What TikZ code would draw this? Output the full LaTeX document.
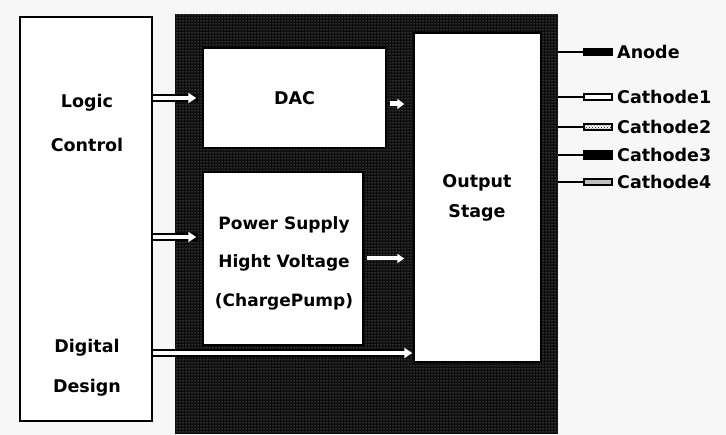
\documentclass[tikz,border=0pt]{standalone}
\usepackage{fontspec}
\setmainfont{DejaVu Sans}
\usetikzlibrary{patterns,arrows.meta}
\begin{document}
\begin{tikzpicture}[x=1pt,y=-1pt,
  lbl/.style={font=\fontsize{17.5}{20}\selectfont\bfseries, text=black, inner sep=0pt},
  wbox/.style={draw=black, line width=2pt, fill=white, inner sep=0pt},
  darkbox/.style={fill=black!95, inner sep=0pt, postaction={pattern=dots, pattern color=gray!65}},
  harrow/.style={white, line width=4pt, -{Triangle[length=8pt,width=10pt]},
     preaction={draw=black, line width=8pt, -, shorten >=4pt}},
  wire/.style={draw=black, line width=1.6pt},
  pinblack/.style={fill=black, minimum width=30pt, minimum height=8pt, inner sep=0pt},
  pinwhite/.style={draw=black, line width=2pt, fill=white, minimum width=28pt, minimum height=6pt, inner sep=0pt},
  pindot/.style={draw=black, line width=2pt, fill=white, pattern=crosshatch dots, minimum width=28pt, minimum height=6pt, inner sep=0pt},
  pingray/.style={draw=black, line width=2pt, fill=gray!50, minimum width=28pt, minimum height=6pt, inner sep=0pt},
  pinlbl/.style={lbl, anchor=west}
]
\useasboundingbox (0,0) rectangle (726,435);
\fill[white!97!black] (0,0) rectangle (726,435);

% big dark block
\node[darkbox, minimum width=383pt, minimum height=420pt] (ana) at (366.5,224) {};

% left block
\node[wbox, line width=2.5pt, minimum width=132pt, minimum height=404pt] (lc) at (86,219) {};
\node[lbl] (t1) at (87,103) {Logic};
\node[lbl] (t2) at (87,145) {Control};
\node[lbl] (t3) at (87,348) {Digital};
\node[lbl] (t4) at (87,388) {Design};

% inner blocks
\node[wbox, line width=1.5pt, minimum width=183pt, minimum height=100pt] (dac) at (294.5,98) {};
\node[lbl] at (dac) {DAC};
\node[wbox, line width=1.5pt, minimum width=160pt, minimum height=173pt] (ps) at (283,258.5) {};
\node[lbl, align=center, font=\fontsize{17}{38.5}\selectfont\bfseries] at (284,263) {Power Supply\\Hight Voltage\\(ChargePump)};
\node[wbox, line width=1.5pt, minimum width=127pt, minimum height=329pt] (out) at (477.5,197.5) {};
\node[lbl, align=center, font=\fontsize{17.5}{30}\selectfont\bfseries] at (477,198) {Output\\Stage};

% arrows
\coordinate (lcps) at (lc.east |- 0,237);
\coordinate (dg) at (lc.east |- 0,353);
\draw[harrow, shorten >=6pt] (lc.east |- dac.west) -- (dac.west);
\draw[harrow, shorten >=6pt] (lcps) -- (lcps -| ps.west);
\draw[harrow, shorten >=1pt] (dg) -- (dg -| out.west);
\draw[white, line width=5pt, -{Triangle[length=7pt,width=10pt]}, shorten <=3pt, shorten >=9pt] (dac.east |- 0,104) -- (out.west |- 0,104);
\draw[white, line width=4pt, -{Triangle[length=7pt,width=9pt]}, shorten <=3pt, shorten >=9pt] (ps.east) -- (ps.east -| out.west);

% output pins
\node[pinblack] (p0) at (598,52) {};
\node[pinwhite] (p1) at (598,97) {};
\node[pindot] (p2) at (598,127) {};
\node[pinblack, minimum height=10pt] (p3) at (598,155) {};
\node[pingray] (p4) at (598,182) {};
\foreach \p in {p0,p1,p2,p3,p4} { \draw[wire] (ana.east |- \p) -- (\p.west); }
\node[pinlbl] at (617,52) {Anode};
\node[pinlbl] at (617,97) {Cathode1};
\node[pinlbl] at (617,127) {Cathode2};
\node[pinlbl] at (617,155) {Cathode3};
\node[pinlbl] at (617,182) {Cathode4};
\end{tikzpicture}
\end{document}
